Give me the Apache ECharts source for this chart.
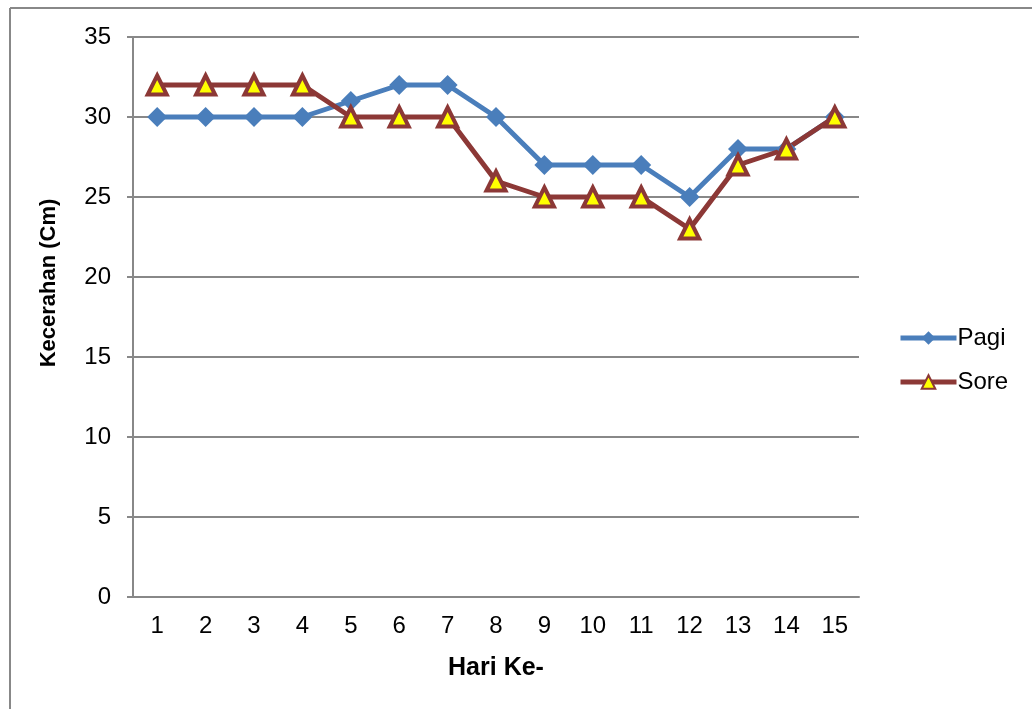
<!DOCTYPE html>
<html>
<head>
<meta charset="utf-8">
<script src="https://cdn.jsdelivr.net/npm/echarts@6/dist/echarts.min.js"></script>
<style>
  html, body { margin: 0; padding: 0; background: #fff; }
  #chart { width: 1032px; height: 709px; }
</style>
</head>
<body>
<div id="chart"></div>
<script>
const days = ["1", "2", "3", "4", "5", "6", "7", "8", "9", "10", "11", "12", "13", "14", "15"];
const pagi = [30, 30, 30, 30, 31, 32, 32, 30, 27, 27, 27, 25, 28, 28, 30];
const sore = [32, 32, 32, 32, 30, 30, 30, 26, 25, 25, 25, 23, 27, 28, 30];

const chart = echarts.init(document.getElementById("chart"));

chart.setOption({
  backgroundColor: "#ffffff",
  animation: false,
  textStyle: { fontFamily: "Liberation Sans, Arial, sans-serif" },
  grid: { left: 133, right: 173, top: 37, bottom: 112 },
  legend: {
    orient: "vertical",
    left: 893,
    top: 321,
    itemWidth: 56,
    itemHeight: 17,
    itemGap: 20,
    lineStyle: { width: 5 },
    textStyle: { fontSize: 24, color: "#000", padding: [0, 0, 0, -4] },
    data: ["Pagi", "Sore"]
  },
  xAxis: {
    type: "category",
    data: days,
    name: "Hari Ke-",
    nameLocation: "middle",
    nameGap: 59,
    nameTextStyle: { fontSize: 25, fontWeight: "bold", color: "#000" },
    axisLine: { lineStyle: { color: "#888", width: 2 } },
    axisTick: { length: 7, lineStyle: { color: "#888", width: 2 } },
    axisLabel: { fontSize: 24, color: "#000", margin: 17 }
  },
  yAxis: {
    type: "value",
    min: 0,
    max: 35,
    interval: 5,
    axisLine: { show: true, lineStyle: { color: "#888", width: 2 } },
    axisTick: { show: true, length: 6, lineStyle: { color: "#888", width: 2 } },
    axisLabel: { fontSize: 24, color: "#000", margin: 22 },
    splitLine: { lineStyle: { color: "#888", width: 2 } }
  },
  series: [
    {
      name: "Pagi",
      type: "line",
      data: pagi,
      symbol: "diamond",
      symbolSize: 20,
      lineStyle: { color: "#4A7EBB", width: 5 },
      itemStyle: { color: "#4A7EBB" }
    },
    {
      name: "Sore",
      type: "line",
      data: sore,
      symbol: "triangle",
      symbolSize: 19,
      lineStyle: { color: "#8C3836", width: 5 },
      itemStyle: { color: "#FFFF00", borderColor: "#8C3836", borderWidth: 4 }
    }
  ],
  graphic: [
    {
      type: "line",
      shape: { x1: 10, y1: 8, x2: 1032, y2: 8 },
      style: { stroke: "#888", lineWidth: 2 }
    },
    {
      type: "line",
      shape: { x1: 10, y1: 8, x2: 10, y2: 709 },
      style: { stroke: "#888", lineWidth: 2 }
    },
    {
      type: "text",
      x: 49,
      y: 283,
      rotation: Math.PI / 2,
      style: {
        text: "Kecerahan (Cm)",
        font: "bold 22px Liberation Sans, Arial, sans-serif",
        fill: "#000",
        align: "center",
        verticalAlign: "middle"
      }
    }
  ]
});
</script>
</body>
</html>
